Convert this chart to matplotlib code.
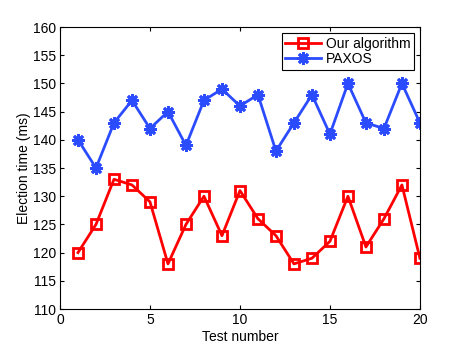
import matplotlib
matplotlib.use("Agg")
import matplotlib.pyplot as plt

test_number = list(range(1, 21))
our_algorithm = [120, 125, 133, 132, 129, 118, 125, 130, 123, 131,
                 126, 123, 118, 119, 122, 130, 121, 126, 132, 119]
paxos = [140, 135, 143, 147, 142, 145, 139, 147, 149, 146,
         148, 138, 143, 148, 141, 150, 143, 142, 150, 143]
xticks = [0, 5, 10, 15, 20]
yticks = list(range(110, 161, 5))

plt.rcParams['font.family'] = ['Liberation Sans', 'DejaVu Sans']
fig = plt.figure(figsize=(4.64, 3.49), dpi=100)
ax = fig.add_axes([0.1293, 0.1146, 0.7757, 0.808])

ax.plot(test_number, our_algorithm, color='#ff0000', lw=2, marker='s',
        markersize=7.5, markerfacecolor='none', markeredgewidth=2,
        label='Our algorithm')
ax.plot(test_number, paxos, color='#2b4bff', lw=2, marker=(8, 2, 0),
        markersize=9, markeredgewidth=2, label='PAXOS')

ax.set_xlim(0, 20)
ax.set_ylim(110, 160)
ax.set_xticks(xticks)
ax.set_yticks(yticks)
ax.tick_params(direction='in', labelsize=10, length=3, top=True, right=True,
               pad=3)
ax.set_xlabel('Test number', fontsize=10, labelpad=2)
ax.set_ylabel('Election time (ms)', fontsize=10, labelpad=1)
for s in ax.spines.values():
    s.set_linewidth(0.8)
leg = ax.legend(loc='upper right', fontsize=10, fancybox=False,
                edgecolor='black', framealpha=1, borderaxespad=0.45,
                handlelength=2.6, borderpad=0.25, labelspacing=0.1,
                handletextpad=0.3)
leg.get_frame().set_linewidth(0.8)
fig.savefig('out.png', dpi=100)
